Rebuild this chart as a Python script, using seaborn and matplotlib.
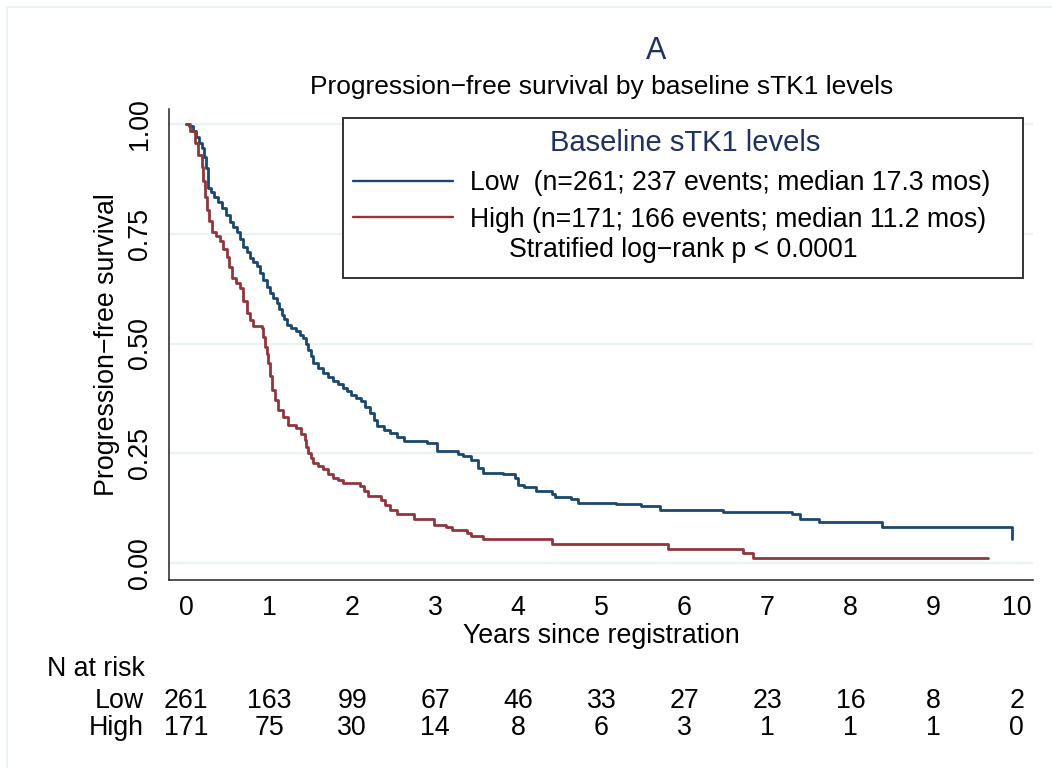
import matplotlib
matplotlib.use("Agg")
import matplotlib.pyplot as plt
import matplotlib.transforms as mtransforms
from matplotlib.lines import Line2D
from matplotlib.patches import Rectangle
import pandas as pd
import seaborn as sns

# Kaplan-Meier steps (years, survival after the step)
low_time = [0, 0.04, 0.08, 0.12, 0.16, 0.19, 0.22, 0.24, 0.26, 0.30, 0.34, 0.39,
            0.43, 0.48, 0.53, 0.57, 0.61, 0.65, 0.69, 0.73, 0.77, 0.81, 0.85, 0.89,
            0.93, 0.97, 1.01, 1.05, 1.09, 1.12, 1.15, 1.18, 1.21, 1.27, 1.33, 1.37,
            1.41, 1.44, 1.47, 1.50, 1.53, 1.59, 1.65, 1.71, 1.77, 1.83, 1.89, 1.94,
            1.99, 2.05, 2.11, 2.16, 2.22, 2.26, 2.30, 2.38, 2.46, 2.54, 2.62, 2.90,
            3.02, 3.27, 3.34, 3.43, 3.52, 3.57, 3.82, 3.96, 4.00, 4.07, 4.21, 4.40,
            4.44, 4.63, 4.72, 5.18, 5.48, 5.71, 6.47, 7.29, 7.39, 7.62, 8.38, 9.94]
low_surv = [1.0, 0.996, 0.985, 0.970, 0.958, 0.945, 0.926, 0.900, 0.854, 0.845, 0.835, 0.822,
            0.809, 0.793, 0.778, 0.766, 0.755, 0.738, 0.721, 0.708, 0.695, 0.686, 0.676, 0.660,
            0.645, 0.630, 0.615, 0.603, 0.592, 0.579, 0.566, 0.555, 0.543, 0.535, 0.528, 0.520,
            0.513, 0.500, 0.486, 0.471, 0.456, 0.445, 0.433, 0.424, 0.414, 0.407, 0.399, 0.391,
            0.383, 0.376, 0.368, 0.355, 0.342, 0.326, 0.311, 0.303, 0.296, 0.286, 0.277, 0.273,
            0.254, 0.248, 0.243, 0.235, 0.216, 0.205, 0.203, 0.194, 0.178, 0.173, 0.163, 0.156,
            0.150, 0.146, 0.137, 0.133, 0.129, 0.120, 0.115, 0.110, 0.099, 0.092, 0.081, 0.053]

high_time = [0, 0.05, 0.11, 0.15, 0.19, 0.21, 0.23, 0.25, 0.28, 0.31, 0.36, 0.41,
             0.45, 0.49, 0.52, 0.55, 0.60, 0.65, 0.69, 0.73, 0.77, 0.81, 0.91, 0.93,
             0.95, 0.97, 0.99, 1.01, 1.03, 1.07, 1.11, 1.17, 1.23, 1.33, 1.38, 1.43,
             1.45, 1.47, 1.50, 1.53, 1.59, 1.65, 1.71, 1.77, 1.83, 1.89, 2.09, 2.14,
             2.19, 2.35, 2.40, 2.46, 2.54, 2.74, 2.98, 3.13, 3.20, 3.38, 3.43, 3.57,
             4.40, 5.80, 6.70, 6.83, 9.66]
high_surv = [1.0, 0.985, 0.957, 0.930, 0.903, 0.870, 0.835, 0.805, 0.780, 0.755, 0.745, 0.733,
             0.716, 0.698, 0.675, 0.649, 0.637, 0.626, 0.598, 0.569, 0.554, 0.539, 0.535, 0.514,
             0.493, 0.475, 0.456, 0.425, 0.395, 0.372, 0.349, 0.332, 0.315, 0.307, 0.294, 0.281,
             0.265, 0.250, 0.239, 0.228, 0.220, 0.213, 0.203, 0.194, 0.188, 0.182, 0.175, 0.163,
             0.152, 0.144, 0.132, 0.121, 0.110, 0.099, 0.087, 0.081, 0.074, 0.068, 0.062, 0.055,
             0.043, 0.032, 0.023, 0.011, 0.011]

risk_years = list(range(11))
risk_low = [261, 163, 99, 67, 46, 33, 27, 23, 16, 8, 2]
risk_high = [171, 75, 30, 14, 8, 6, 3, 1, 1, 1, 0]

groups = ["Low", "High"]
legend_labels = ["Low  (n=261; 237 events; median 17.3 mos)",
                 "High (n=171; 166 events; median 11.2 mos)"]
pvalue_text = "Stratified log\u2212rank p < 0.0001"

NAVY = "#1a476f"
MAROON = "#90353b"
TITLE_NAVY = "#1e3160"
GRID = "#eaf2f3"
FS = 19.3

sns.set_style("white")
plt.rcParams["font.family"] = ["Liberation Sans", "DejaVu Sans"]
plt.rcParams["text.color"] = "black"
plt.rcParams["axes.labelcolor"] = "black"

df = pd.concat([
    pd.DataFrame({"time": low_time, "surv": low_surv, "group": "Low"}),
    pd.DataFrame({"time": high_time, "surv": high_surv, "group": "High"}),
], ignore_index=True)

W, H = 1052, 768
fig = plt.figure(figsize=(W / 100, H / 100), dpi=100)
ax = fig.add_axes([169.3 / W, 1 - 580 / H, (1033 - 169.3) / W, (580 - 109) / H])

sns.lineplot(data=df, x="time", y="surv", hue="group", hue_order=groups,
             palette=[NAVY, MAROON], drawstyle="steps-post", estimator=None,
             linewidth=2.0, legend=False, ax=ax)

ax.set_xlim(-0.201, 10.196)
ax.set_ylim(-0.0395, 1.035)
ax.set_xticks(risk_years)
ax.set_yticks([0, 0.25, 0.5, 0.75, 1.0])
ax.set_yticklabels(["0.00", "0.25", "0.50", "0.75", "1.00"], rotation=90, va="center")
for yv in [0, 0.25, 0.5, 0.75, 1.0]:
    ax.axhline(yv, color=GRID, lw=1.6, zorder=0)

for s in ["top", "right"]:
    ax.spines[s].set_visible(False)
for s in ["left", "bottom"]:
    ax.spines[s].set_color("#222222")
    ax.spines[s].set_linewidth(1.1)
ax.tick_params(axis="both", direction="out", length=7.5, width=1.1, color="#222222",
               labelsize=FS, labelcolor="black")
ax.tick_params(axis="x", pad=3.5)
ax.tick_params(axis="y", pad=4)

ax.set_xlabel("Years since registration", fontsize=FS, va="baseline")
ax.xaxis.set_label_coords(0.5, (580 - 643) / 471)
ax.set_ylabel("Progression\u2212free survival", fontsize=FS, va="center")
ax.yaxis.set_label_coords((106.7 - 169.3) / 863.7, 0.5)

# titles
fig.text(655.7 / W, 1 - 59.3 / H, "A", fontsize=22, color=TITLE_NAVY, ha="center", va="baseline")
fig.text(601.7 / W, 1 - 94.3 / H, "Progression\u2212free survival by baseline sTK1 levels",
         fontsize=19, ha="center", va="baseline")

# legend box drawn by hand in pixel positions
def px(x, y):
    return x / W, 1 - y / H

fig.patches.append(Rectangle(px(342.7, 277.7), (1023.3 - 342.7) / W, (277.7 - 117.7) / H,
                             transform=fig.transFigure, fill=True, facecolor="white",
                             edgecolor="#333333", lw=1.4, zorder=5))
fig.text(*px(685, 150.7), "Baseline sTK1 levels", fontsize=21, color=TITLE_NAVY,
         ha="center", va="baseline", zorder=6)
for color, label, ly, by in zip([NAVY, MAROON], legend_labels, [180.7, 217.3], [190, 226.7]):
    x0, y0 = px(353.3, ly)
    x1, _ = px(453.3, ly)
    fig.lines.append(Line2D([x0, x1], [y0, y0], transform=fig.transFigure, color=color,
                            lw=1.7, zorder=6))
    fig.text(*px(470, by), label, fontsize=19.2, ha="left", va="baseline", zorder=6)
fig.text(*px(683, 256.7), pvalue_text, fontsize=19.2, ha="center", va="baseline", zorder=6)

# number at risk table
blend = mtransforms.blended_transform_factory(ax.transData, fig.transFigure)
fig.text(*px(46.7, 676), "N at risk", fontsize=FS, ha="left", va="baseline")
for name, counts, by in zip(groups, [risk_low, risk_high], [707.7, 735]):
    fig.text(*px(144, by), name, fontsize=FS, ha="right", va="baseline")
    for yr, n in zip(risk_years, counts):
        ax.text(yr, 1 - by / H, str(n), transform=blend, fontsize=FS,
                ha="center", va="baseline", clip_on=False)

# faint outer frame of the graph region
fig.lines.append(Line2D(*zip(px(7.3, H), px(7.3, 7), px(W, 7)), transform=fig.transFigure,
                        color=GRID, lw=1.5))

fig.savefig("out.png", dpi=100, facecolor="white")
